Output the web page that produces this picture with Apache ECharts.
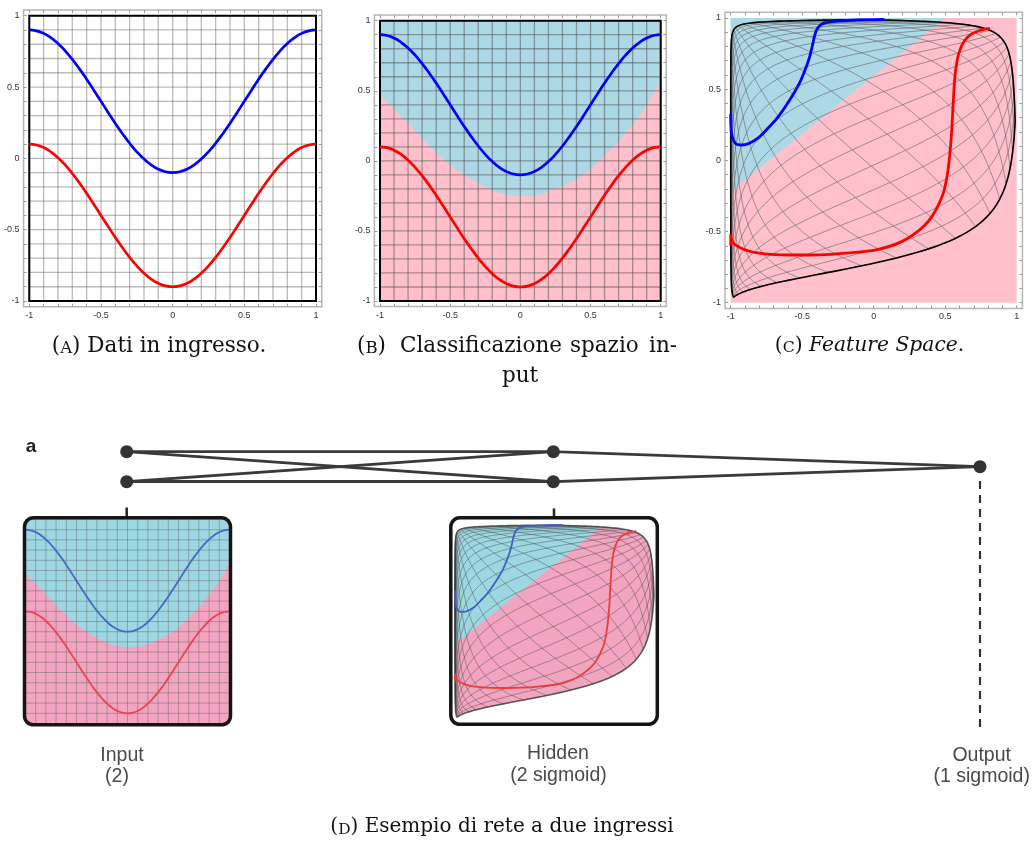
<!DOCTYPE html>
<html>
<head>
<meta charset="utf-8">
<script src="https://cdn.jsdelivr.net/npm/echarts@6.0.0/dist/echarts.min.js"></script>
<style>
html,body{margin:0;padding:0;background:#fff;}
#chart{width:1033px;height:846px;}
</style>
</head>
<body>
<div id="chart"></div>
<script>
// ---------- data ----------
// 0.1 grid of the input square
const xs = [-1, -0.9, -0.8, -0.7, -0.6, -0.5, -0.4, -0.3, -0.2, -0.1, 0, 0.1, 0.2, 0.3, 0.4, 0.5, 0.6, 0.7, 0.8, 0.9, 1];
// sample positions along the class curves
const curveX = [-1, -0.95, -0.9, -0.85, -0.8, -0.75, -0.7, -0.65, -0.6, -0.55, -0.5, -0.45, -0.4, -0.35, -0.3, -0.25, -0.2, -0.15, -0.1, -0.05, 0,
                0.05, 0.1, 0.15, 0.2, 0.25, 0.3, 0.35, 0.4, 0.45, 0.5, 0.55, 0.6, 0.65, 0.7, 0.75, 0.8, 0.85, 0.9, 0.95, 1];
// class curves in input space
const blueY = [0.900, 0.894, 0.876, 0.846, 0.805, 0.754, 0.694, 0.627, 0.555, 0.478, 0.400, 0.322, 0.245, 0.173, 0.106, 0.046, -0.005, -0.046, -0.076, -0.094, -0.100,
               -0.094, -0.076, -0.046, -0.005, 0.046, 0.106, 0.173, 0.245, 0.322, 0.400, 0.478, 0.555, 0.627, 0.694, 0.754, 0.805, 0.846, 0.876, 0.894, 0.900];
const redY = [0.100, 0.094, 0.076, 0.046, 0.005, -0.046, -0.106, -0.173, -0.245, -0.322, -0.400, -0.478, -0.555, -0.627, -0.694, -0.754, -0.805, -0.846, -0.876, -0.894, -0.900,
              -0.894, -0.876, -0.846, -0.805, -0.754, -0.694, -0.627, -0.555, -0.478, -0.400, -0.322, -0.245, -0.173, -0.106, -0.046, 0.005, 0.046, 0.076, 0.094, 0.100];
// decision boundary of the trained net, in input space
const boundaryY = [0.47, 0.37, 0.27, 0.16, 0.06, -0.03, -0.10, -0.16, -0.21, -0.24, -0.25, -0.245, -0.22, -0.18, -0.13, -0.06, 0.04, 0.14, 0.26, 0.40, 0.57];
const tickValues = [-1, -0.5, 0, 0.5, 1];

// class curves in the hidden-layer (feature) space
const blueFeature = [[-1.0, 0.26], [-1.0, 0.325], [-0.999, 0.27], [-0.995, 0.19], [-0.975, 0.13], [-0.95, 0.11], [-0.92, 0.108], [-0.877, 0.117], [-0.807, 0.158], [-0.74, 0.225], [-0.667, 0.307], [-0.573, 0.447], [-0.52, 0.54], [-0.48, 0.635], [-0.45, 0.72], [-0.43, 0.80], [-0.412, 0.88], [-0.395, 0.925], [-0.37, 0.952], [-0.34, 0.966], [-0.25, 0.978], [-0.108, 0.986], [0.074, 0.99]];
const redFeature = [[-1.0, -0.60], [-1.0, -0.517], [-0.997, -0.545], [-0.985, -0.575], [-0.965, -0.595], [-0.93, -0.615], [-0.88, -0.635], [-0.8, -0.652], [-0.69, -0.662], [-0.5, -0.665], [-0.34, -0.662], [-0.17, -0.65], [0.0, -0.632], [0.1, -0.608], [0.196, -0.571], [0.28, -0.52], [0.359, -0.454], [0.41, -0.39], [0.452, -0.314], [0.49, -0.22], [0.515, -0.1], [0.532, 0.04], [0.545, 0.2], [0.557, 0.42], [0.568, 0.59], [0.585, 0.71], [0.605, 0.78], [0.635, 0.84], [0.68, 0.885], [0.74, 0.912], [0.813, 0.927]];
// output unit's separating line in feature space
const featureBoundary = [[-1, -0.22], [0.5, 1]];
// hidden layer: h = tanh(W p + b)
const hiddenWeights = [[2.44, -1.33], [1.12, 1.15]];
const hiddenBias = [-1.17, 0.31];

// network: [layer, node offset]
const inputNodes = [[0, 0.5], [0, -0.5]];
const hiddenNodes = [[1, 0.5], [1, -0.5]];
const outputNodes = [[2, 0]];
const layerNames = ['Input', 'Hidden', 'Output'];
const layerSizes = ['(2)', '(2 sigmoid)', '(1 sigmoid)'];

// ---------- styling ----------
const PINK = '#ffc0cb', LIGHTBLUE = '#add8e6';
const PINK2 = '#f2a5c0', CYAN2 = '#9dd8e2';
const SANS = 'Liberation Sans, Arial, sans-serif';
const SERIF = 'DejaVu Serif, serif';

// ---------- hidden-layer geometry ----------
function toFeature(p) {
  const W = hiddenWeights, b = hiddenBias;
  return [Math.tanh(W[0][0] * p[0] + W[0][1] * p[1] + b[0]),
          Math.tanh(W[1][0] * p[0] + W[1][1] * p[1] + b[1])];
}
const fine = [];
for (let i = 0; i <= 80; i++) fine.push(-1 + i / 40);
const meshLines = [];
xs.forEach(v => {
  meshLines.push(fine.map(t => toFeature([v, t])));
  meshLines.push(fine.map(t => toFeature([t, v])));
});
const rev = fine.slice().reverse();
const outline = [].concat(
  fine.map(t => toFeature([t, -1])),
  fine.map(t => toFeature([1, t])),
  rev.map(t => toFeature([t, 1])),
  rev.map(t => toFeature([-1, t]))
);
const [fb0, fb1] = featureBoundary;
const fbSlope = (fb1[1] - fb0[1]) / (fb1[0] - fb0[0]);
const side = p => p[1] - (fb0[1] + fbSlope * (p[0] - fb0[0]));
function clipAbove(poly) {
  const out = [];
  for (let i = 0; i < poly.length; i++) {
    const P = poly[i], Q = poly[(i + 1) % poly.length];
    const fp = side(P), fq = side(Q);
    if (fp >= 0) out.push(P);
    if ((fp >= 0) !== (fq >= 0)) {
      const t = fp / (fp - fq);
      out.push([P[0] + t * (Q[0] - P[0]), P[1] + t * (Q[1] - P[1])]);
    }
  }
  return out;
}

// ---------- layout helpers ----------
const grid = [], xAxis = [], yAxis = [], series = [];
function addGrid(rect, extra) {
  grid.push(Object.assign({left: rect[0], top: rect[1], width: rect[2], height: rect[3],
    containLabel: false, outerBoundsMode: 'none', show: false}, extra || {}));
  return grid.length - 1;
}
function hiddenAxes(gi, xr, yr) {
  xAxis.push({type: 'value', gridIndex: gi, min: xr[0], max: xr[1], show: false});
  yAxis.push({type: 'value', gridIndex: gi, min: yr[0], max: yr[1], show: false});
  return {x: xAxis.length - 1, y: yAxis.length - 1};
}
function frameAxis(gi, pos, withLabels) {
  return {type: 'value', gridIndex: gi, position: pos, min: -1.04, max: 1.04,
    axisLine: {show: false, onZero: false}, splitLine: {show: false},
    axisTick: {show: true, inside: true, length: 3, customValues: xs, lineStyle: {color: '#9c9c9c', width: 1}},
    axisLabel: {show: withLabels, customValues: tickValues, fontSize: 9, color: '#333', margin: 4, fontFamily: SANS}};
}
function panel(inner, bg) {
  const [l, t, w, h] = inner;
  const dx = 0.02 * w, dy = 0.02 * h;
  const go = addGrid([l - dx, t - dy, w + 2 * dx, h + 2 * dy],
    {show: true, borderColor: '#b5b5b5', borderWidth: 1.5, backgroundColor: 'transparent'});
  xAxis.push(frameAxis(go, 'bottom', true), frameAxis(go, 'top', false));
  yAxis.push(frameAxis(go, 'left', true), frameAxis(go, 'right', false));
  const gi = addGrid(inner, {show: !!bg, backgroundColor: bg || 'transparent', borderWidth: 0});
  return hiddenAxes(gi, [-1, 1], [-1, 1]);
}

const pairs = (xv, yv) => xv.map((x, i) => [x, yv[i]]);
function lineSeries(ax, data, color, width, z, smooth) {
  return {type: 'line', xAxisIndex: ax.x, yAxisIndex: ax.y, data, symbol: 'none', showSymbol: false,
    smooth: smooth === undefined ? true : smooth, lineStyle: {color, width}, z, silent: true, clip: false};
}
function regionSeries(ax, data, color, z, smooth) {
  return {type: 'line', xAxisIndex: ax.x, yAxisIndex: ax.y, data, symbol: 'none', showSymbol: false,
    smooth, lineStyle: {width: 0, opacity: 0}, areaStyle: {color, opacity: 1, origin: 'end'}, z, silent: true};
}
function gridSeries(ax, stroke, width, border, z) {
  return {type: 'custom', xAxisIndex: ax.x, yAxisIndex: ax.y, data: [[0, 0]], z, silent: true, clip: false,
    renderItem: (params, api) => {
      const children = [];
      xs.forEach(v => {
        const a = api.coord([v, -1]), b = api.coord([v, 1]);
        const c = api.coord([-1, v]), d = api.coord([1, v]);
        children.push({type: 'line', shape: {x1: a[0], y1: a[1], x2: b[0], y2: b[1]}, style: {stroke, lineWidth: width, fill: 'none'}});
        children.push({type: 'line', shape: {x1: c[0], y1: c[1], x2: d[0], y2: d[1]}, style: {stroke, lineWidth: width, fill: 'none'}});
      });
      if (border) {
        const p = api.coord([-1, 1]), q = api.coord([1, -1]);
        children.push({type: 'rect', shape: {x: p[0], y: p[1], width: q[0] - p[0], height: q[1] - p[1]},
          style: {fill: 'none', stroke: '#000', lineWidth: 2}});
      }
      return {type: 'group', children};
    }};
}
function meshSeries(ax, o) {
  return {type: 'custom', xAxisIndex: ax.x, yAxisIndex: ax.y, data: [[0, 0]], z: o.z, silent: true, clip: false,
    renderItem: (params, api) => {
      const P = pts => pts.map(p => api.coord(p));
      const children = [];
      if (o.fill) {
        children.push({type: 'polygon', shape: {points: P(outline)}, style: {fill: o.fill, stroke: 'none'}});
        children.push({type: 'polygon', shape: {points: P(clipAbove(outline))}, style: {fill: o.fillAbove, stroke: 'none'}});
      }
      meshLines.forEach(l => children.push({type: 'polyline', shape: {points: P(l)},
        style: {fill: 'none', stroke: o.stroke, lineWidth: o.width}}));
      children.push({type: 'polygon', shape: {points: P(outline)},
        style: {fill: 'none', stroke: o.edge, lineWidth: o.edgeWidth}});
      return {type: 'group', children};
    }};
}

// ---------- panels ----------
const axA = panel([29.3, 15.7, 286.7, 285.3]);
const axB = panel([380, 20.7, 280.7, 280.3], PINK);
const axC = panel([730.7, 18, 286, 284.7], PINK);
const axIn = hiddenAxes(addGrid([25.5, 519.5, 204, 204], {show: true, backgroundColor: PINK2, borderWidth: 0}), [-1, 1], [-1, 1]);
const axHid = hiddenAxes(addGrid([455, 524, 200, 197]), [-1, 1], [-1, 1]);
const axNet = hiddenAxes(addGrid([126.7, 451.7, 853.3, 30]), [0, 2], [-0.5, 0.5]);

// (A) input data
series.push(gridSeries(axA, 'rgba(90,90,90,0.42)', 1.3, true, 3));
series.push(lineSeries(axA, pairs(curveX, blueY), '#0000ff', 2.7, 4));
series.push(lineSeries(axA, pairs(curveX, redY), '#ff0000', 2.7, 4));

// (B) classification of the input space
series.push(regionSeries(axB, pairs(xs, boundaryY), LIGHTBLUE, 2, true));
series.push(gridSeries(axB, 'rgba(80,80,80,0.5)', 1.3, true, 3));
series.push(lineSeries(axB, pairs(curveX, blueY), '#0000ff', 2.7, 4));
series.push(lineSeries(axB, pairs(curveX, redY), '#ff0000', 2.7, 4));

// (C) feature space
series.push(regionSeries(axC, featureBoundary, LIGHTBLUE, 2, false));
series.push(meshSeries(axC, {z: 3, stroke: 'rgba(100,100,100,0.6)', width: 1, edge: '#000', edgeWidth: 1.6}));
series.push(lineSeries(axC, blueFeature, '#0000ff', 2.8, 4, 0.3));
series.push(lineSeries(axC, redFeature, '#ff0000', 2.8, 4, 0.3));

// (D) network insets
series.push(regionSeries(axIn, pairs(xs, boundaryY), CYAN2, 2, true));
series.push(gridSeries(axIn, 'rgba(90,90,90,0.4)', 1, false, 3));
series.push(lineSeries(axIn, pairs(curveX, blueY), '#4a67c4', 1.8, 4));
series.push(lineSeries(axIn, pairs(curveX, redY), '#ea4450', 1.8, 4));

series.push(meshSeries(axHid, {z: 3, fill: PINK2, fillAbove: CYAN2, stroke: 'rgba(70,70,70,0.45)', width: 1, edge: 'rgba(60,60,60,0.75)', edgeWidth: 1.6}));
series.push(lineSeries(axHid, blueFeature, '#3f5fc6', 1.8, 4, 0.3));
series.push(lineSeries(axHid, redFeature, '#ee3b3b', 1.8, 4, 0.3));

// network edges and nodes
const edges = [];
inputNodes.forEach(a => hiddenNodes.forEach(b => edges.push({coords: [a, b]})));
hiddenNodes.forEach(a => outputNodes.forEach(b => edges.push({coords: [a, b]})));
series.push({type: 'lines', coordinateSystem: 'cartesian2d', xAxisIndex: axNet.x, yAxisIndex: axNet.y,
  data: edges, lineStyle: {color: '#3a3a3a', width: 2.8, opacity: 1, curveness: 0}, z: 5, silent: true});
series.push({type: 'scatter', xAxisIndex: axNet.x, yAxisIndex: axNet.y,
  data: [].concat(inputNodes, hiddenNodes, outputNodes), symbol: 'circle', symbolSize: 13,
  itemStyle: {color: '#333', opacity: 1}, z: 6, silent: true, clip: false});

// ---------- text and frames ----------
function txt(x, y, text, size, o) {
  return {type: 'text', x, y, silent: true, z: 60,
    style: Object.assign({text, fontSize: size, fontFamily: SERIF, fill: '#111', align: 'center', verticalAlign: 'middle',
      rich: {sc: {fontSize: size * 0.77, fontFamily: SERIF, fill: '#111', verticalAlign: 'bottom'},
             it: {fontSize: size, fontFamily: SERIF, fontStyle: 'italic', fill: '#111'}}}, o || {})};
}
function label(x, y, text) {
  return {type: 'text', x, y, silent: true, z: 60,
    style: {text, fontSize: 19.5, fontFamily: SANS, fill: '#4a4a4a', align: 'center', verticalAlign: 'middle'}};
}
const graphics = [
  txt(159, 346, '({sc|A}) Dati in ingresso.', 21.5),
  txt(357, 346, '({sc|B})', 21.5, {align: 'left'}),
  txt(400, 346, 'Classificazione', 21.5, {align: 'left'}),
  txt(570, 346, 'spazio', 21.5, {align: 'left'}),
  txt(677, 346, 'in-', 21.5, {align: 'right'}),
  txt(520, 376, 'put', 21.5),
  txt(869.5, 346, '({sc|C}) {it|Feature Space}.', 20.3),
  txt(502, 827, '({sc|D}) Esempio di rete a due ingressi', 20),
  {type: 'text', x: 31, y: 447, silent: true, style: {text: 'a', fontSize: 19, fontWeight: 'bold', fontFamily: SANS, fill: '#222', align: 'center', verticalAlign: 'middle'}},
  label(122, 756, layerNames[0]), label(117, 777, layerSizes[0]),
  label(558, 754, layerNames[1]), label(558.5, 776, layerSizes[1]),
  label(981.7, 756, layerNames[2]), label(981.7, 777, layerSizes[2]),
  {type: 'line', silent: true, z: 40, shape: {x1: 126.7, y1: 507.5, x2: 126.7, y2: 516}, style: {stroke: '#222', lineWidth: 2.5}},
  {type: 'line', silent: true, z: 40, shape: {x1: 554, y1: 508.5, x2: 554, y2: 516}, style: {stroke: '#222', lineWidth: 2.5}},
  {type: 'line', silent: true, z: 40, shape: {x1: 980, y1: 481, x2: 980, y2: 727}, style: {stroke: '#333', lineWidth: 2.2, lineDash: [8, 6]}},
  {type: 'rect', silent: true, z: 50, shape: {x: 24.5, y: 517.8, width: 206, height: 207, r: 9}, style: {fill: 'none', stroke: '#151515', lineWidth: 3.5}},
  {type: 'rect', silent: true, z: 50, shape: {x: 450.8, y: 517.8, width: 206.5, height: 206.5, r: 9}, style: {fill: 'none', stroke: '#151515', lineWidth: 3.5}}
];

const chart = echarts.init(document.getElementById('chart'), null, {renderer: 'canvas'});
chart.setOption({
  animation: false,
  backgroundColor: '#fff',
  grid, xAxis, yAxis, series,
  graphic: {elements: graphics}
});
</script>
</body>
</html>
